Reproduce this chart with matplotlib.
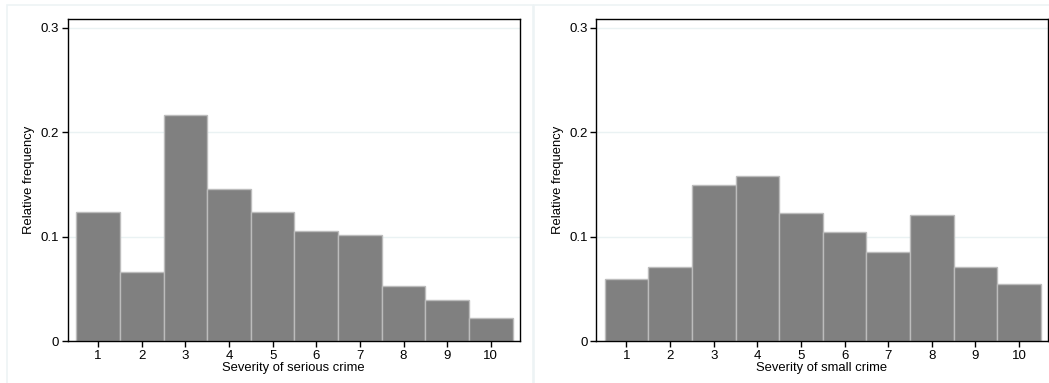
import matplotlib
matplotlib.use("Agg")
import matplotlib.pyplot as plt
from matplotlib.patches import Rectangle

plt.rcParams['font.family'] = ['Liberation Sans', 'DejaVu Sans']

severity = [1, 2, 3, 4, 5, 6, 7, 8, 9, 10]
serious_freq = [0.1238, 0.0663, 0.2166, 0.1458, 0.1238, 0.1060, 0.1018, 0.0527, 0.0398, 0.0220]
small_freq = [0.0592, 0.0715, 0.1494, 0.1578, 0.1229, 0.1044, 0.0857, 0.1209, 0.0715, 0.0550]
yticks = [0, 0.1, 0.2, 0.3]
yticklabels = ['0', '0.1', '0.2', '0.3']

W, H = 1049, 383
fig = plt.figure(figsize=(W / 100, H / 100), dpi=100)

# light outer frames of the two graph regions
for (x0, x1) in [(7, 533), (534, 1060)]:
    fig.patches.append(Rectangle((x0 / W, -0.1), (x1 - x0) / W, 1.1 - 5 / H,
                                 transform=fig.transFigure, fill=False,
                                 edgecolor='#edf3f5', lw=1.2))

panels = [
    (67.6, serious_freq, 'Severity of serious crime'),
    (595.9, small_freq, 'Severity of small crime'),
]

for left, vals, xlab in panels:
    ax = fig.add_axes([left / W, 1 - 341.4 / H, 452 / W, (341.4 - 19.3) / H])
    ax.set_axisbelow(True)
    ax.yaxis.grid(True, color='#eaf2f3', lw=1)
    ax.bar(severity, vals, width=1.0, color='#808080', edgecolor='#bcbcbc', lw=1)
    ax.set_xlim(0.3, 10.66)
    ax.set_ylim(0, 0.308)
    ax.set_xticks(severity)
    ax.set_yticks(yticks)
    ax.set_yticklabels(yticklabels)
    ax.tick_params(axis='both', direction='out', length=4, width=1,
                   labelsize=9.5, color='black', pad=2)
    for s in ax.spines.values():
        s.set_color('black')
        s.set_linewidth(1)
    ax.set_xlabel(xlab, fontsize=9.4, labelpad=0)
    ax.set_ylabel('Relative frequency', fontsize=9.4, labelpad=4)

fig.savefig('out.png', dpi=100)
